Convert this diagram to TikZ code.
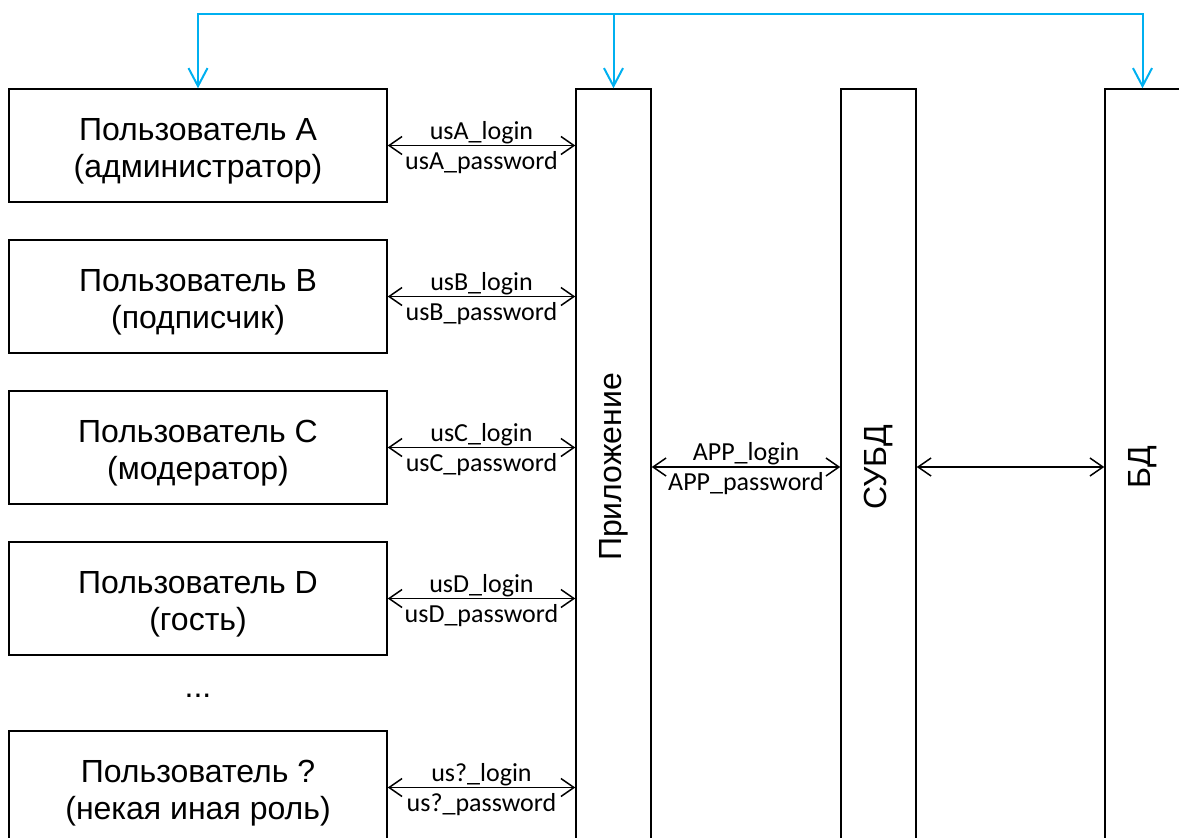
\documentclass[tikz,border=0pt]{standalone}
\usepackage{fontspec}
\setmainfont{Liberation Sans}
\newfontfamily\lblfont{Carlito}
\usetikzlibrary{arrows.meta,positioning}
\definecolor{busblue}{RGB}{0,176,240}
\newcommand\toppad{\rule{0pt}{34pt}}
\tikzset{
    userbox/.style={
        draw,
        line width=1.5pt,
        minimum width=378pt,
        minimum height=113pt,
        inner sep=0pt,
        align=center,
        font=\fontsize{32}{37}\selectfont
    },
    % high columns: application, DBMS, DB
    tallbox/.style={
        draw,
        line width=1.5pt,
        minimum width=75pt,
        minimum height=756pt,
        inner sep=0pt
    },
    tallname/.style={
        rotate=90,
        font=\fontsize{32}{37}\selectfont
    },
    blackarrow/.style={
        line width=1.5pt,
        black,
        {Straight Barb[length=13pt, width=18pt]}-{Straight Barb[length=13pt, width=18pt]}
    },
    bluearrow/.style={
        line width=2pt,
        busblue,
        -{Straight Barb[length=18pt, width=19pt]}
    },
    lbl/.style={
        font=\lblfont\fontsize{26}{28}\selectfont,
        inner sep=1pt
    }
}
\begin{document}
\begin{tikzpicture}[x=1pt,y=-1pt]
	\clip (0,0) rectangle (1179,838);
	
	% users
	\node[userbox] (uA) at (198,145.5) {\toppad Пользователь A\\(администратор)};
	\node[userbox] (uB) at (198,296.5) {\toppad Пользователь B\\(подписчик)};
	\node[userbox] (uC) at (198,447.5) {\toppad Пользователь C\\(модератор)};
	\node[userbox] (uD) at (198,598.5) {\toppad Пользователь D\\(гость)};
	\node[userbox] (uX) at (198,787.5) {\toppad Пользователь ?\\(некая иная роль)};
	\node[font=\fontsize{32}{37}\selectfont] (dots) at (198,696) {...};
	
	% columns
	\node[tallbox] (app) at (613.5,467) {};
	\node[tallbox] (dbms) at (878.5,467) {};
	\node[tallbox] (db) at (1142.5,467) {};
	\node[tallname] (appname) at (app.center) {Приложение};
	\node[tallname] (dbmsname) at (dbms.center) {СУБД};
	\node[tallname] (dbname) at (db.center) {БД};
	
	% logins
	\draw[blackarrow] (uA.east) -- (uA.east -| app.west)
		node[midway,above,lbl] {usA\_login} node[midway,below=4pt,lbl] {usA\_password};
	\draw[blackarrow] (uB.east) -- (uB.east -| app.west)
		node[midway,above,lbl] {usB\_login} node[midway,below=4pt,lbl] {usB\_password};
	\draw[blackarrow] (uC.east) -- (uC.east -| app.west)
		node[midway,above,lbl] {usC\_login} node[midway,below=4pt,lbl] {usC\_password};
	\draw[blackarrow] (uD.east) -- (uD.east -| app.west)
		node[midway,above,lbl] {usD\_login} node[midway,below=4pt,lbl] {usD\_password};
	\draw[blackarrow] (uX.east) -- (uX.east -| app.west)
		node[midway,above,lbl] {us?\_login} node[midway,below=4pt,lbl] {us?\_password};
	\draw[blackarrow] (app.east) -- (dbms.west)
		node[midway,above,lbl] {APP\_login} node[midway,below=4pt,lbl] {APP\_password};
	\draw[blackarrow] (dbms.east) -- (db.west);
	
	% blue bus
	\coordinate (bus) at (613.5,14);
	\draw[bluearrow] (bus) -| (uA.north);
	\draw[bluearrow] (bus) -- (app.north);
	\draw[bluearrow] (bus) -| (db.north);
\end{tikzpicture}
\end{document}
